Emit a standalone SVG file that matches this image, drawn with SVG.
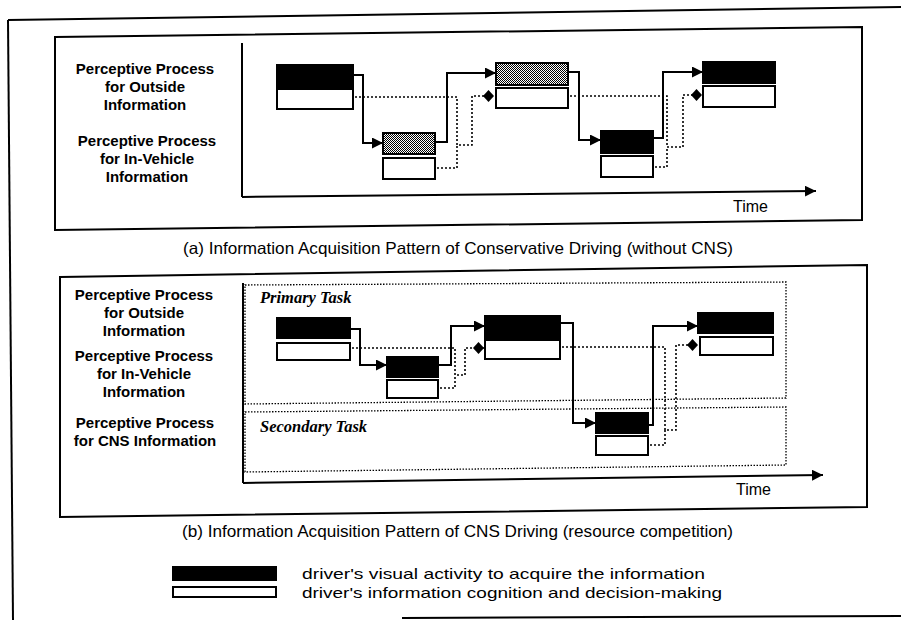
<svg xmlns="http://www.w3.org/2000/svg" width="901" height="620" viewBox="0 0 901 620">
<style>
.frame{fill:none;stroke:#000;stroke-width:2}
.box{fill:none;stroke:#000;stroke-width:1.3;stroke-dasharray:1.5 1.5}
.blk{fill:#000;stroke:#000;stroke-width:2}
.gry{fill:url(#stip);stroke:#000;stroke-width:2}
.wht{fill:#fff;stroke:#000;stroke-width:2}
.sol{fill:none;stroke:#000;stroke-width:2}
.dot{fill:none;stroke:#000;stroke-width:1.6;stroke-dasharray:2 2}
.lbl{font-family:"Liberation Sans",Arial,sans-serif;font-weight:bold;font-size:15px;text-anchor:middle}
.cap{font-family:"Liberation Sans",Arial,sans-serif;font-size:16.5px}
.leg{font-family:"Liberation Sans",Arial,sans-serif;font-size:15px}
.time{font-family:"Liberation Sans",Arial,sans-serif;font-size:16px}
.task{font-family:"Liberation Serif","Times New Roman",serif;font-weight:bold;font-style:italic;font-size:16.5px}
</style>
<defs>
<pattern id="stip" width="2" height="2" patternUnits="userSpaceOnUse"><rect width="2" height="2" fill="#fff"/><rect width="1" height="1" fill="#000"/><rect x="1" y="1" width="1" height="1" fill="#000"/></pattern>
<marker id="arr" markerUnits="userSpaceOnUse" markerWidth="12" markerHeight="12" refX="11" refY="5.5" orient="auto"><path d="M0,0 L11,5.5 L0,11 z" fill="#000"/></marker>
<marker id="dia" markerUnits="userSpaceOnUse" markerWidth="13" markerHeight="13" refX="11" refY="6" orient="auto"><path d="M0,6 L5.5,0 L11,6 L5.5,12 z" fill="#000"/></marker>
</defs>
<rect width="901" height="620" fill="#fff"/>
<g id="outer">
<polyline class="frame" points="8,20 901,7"/>
<polyline class="frame" points="8,20 13,620"/>
<polyline class="frame" points="402,618 901,616"/>
</g>
<g id="panel-a">
<polygon class="frame" points="55,37 862,27 862,220 55,230"/>
<line class="frame" x1="242" y1="43" x2="242" y2="197"/>
<line class="frame" x1="242" y1="197" x2="816" y2="191" marker-end="url(#arr)"/>
<text class="time" x="733" y="212">Time</text>
<text class="lbl" x="145" y="74">Perceptive Process</text>
<text class="lbl" x="145" y="92">for Outside</text>
<text class="lbl" x="145" y="110">Information</text>
<text class="lbl" x="147" y="146">Perceptive Process</text>
<text class="lbl" x="147" y="164">for In-Vehicle</text>
<text class="lbl" x="147" y="182">Information</text>
<text class="cap" x="183" y="254" textLength="550" lengthAdjust="spacingAndGlyphs">(a) Information Acquisition Pattern of Conservative Driving (without CNS)</text>
</g>
<g id="a-node1"><rect class="blk" x="277" y="65" width="76" height="22"/><rect class="wht" x="277" y="89" width="76" height="20"/></g>
<g id="a-node2"><rect class="gry" x="383" y="133" width="52" height="21"/><rect class="wht" x="383" y="158" width="52" height="21"/></g>
<g id="a-node3"><rect class="gry" x="496" y="63" width="72" height="22"/><rect class="wht" x="496" y="88" width="72" height="20"/></g>
<g id="a-node4"><rect class="blk" x="601" y="131" width="52" height="22"/><rect class="wht" x="601" y="156" width="52" height="21"/></g>
<g id="a-node5"><rect class="blk" x="703" y="62" width="72" height="21"/><rect class="wht" x="703" y="86" width="72" height="21"/></g>
<g id="a-connectors">
<path class="sol" d="M353,75 H363 V143 H383" marker-end="url(#arr)"/>
<path class="sol" d="M435,142 H447 V73 H496" marker-end="url(#arr)"/>
<path class="sol" d="M568,72 H579 V140 H601" marker-end="url(#arr)"/>
<path class="sol" d="M653,138 H663 V72 H703" marker-end="url(#arr)"/>
<path class="dot" d="M355,97 H457 V145 H472 V96 H494" marker-end="url(#dia)"/>
<path class="dot" d="M437,168 H457 V145"/>
<path class="dot" d="M570,96 H667 V147 H683 V95 H702" marker-end="url(#dia)"/>
<path class="dot" d="M655,167 H667 V147"/>
</g>
<g id="panel-b">
<polygon class="frame" points="60,277 867,265 867,507 60,517"/>
<polygon class="box" points="245,285 786,282 786,398 245,404"/>
<polygon class="box" points="245,412 786,407 786,465 245,472"/>
<line class="frame" x1="243" y1="283" x2="243" y2="483"/>
<line class="frame" x1="243" y1="483" x2="823" y2="475" marker-end="url(#arr)"/>
<text class="time" x="736" y="495">Time</text>
<text class="task" x="260" y="303">Primary Task</text>
<text class="task" x="260" y="432">Secondary Task</text>
<text class="lbl" x="144" y="300">Perceptive Process</text>
<text class="lbl" x="144" y="318">for Outside</text>
<text class="lbl" x="144" y="336">Information</text>
<text class="lbl" x="144" y="361">Perceptive Process</text>
<text class="lbl" x="144" y="379">for In-Vehicle</text>
<text class="lbl" x="144" y="397">Information</text>
<text class="lbl" x="145" y="428">Perceptive Process</text>
<text class="lbl" x="145" y="446">for CNS Information</text>
<text class="cap" x="182" y="537" textLength="551" lengthAdjust="spacingAndGlyphs">(b) Information Acquisition Pattern of CNS Driving (resource competition)</text>
</g>
<g id="b-node1"><rect class="blk" x="277" y="318" width="73" height="20"/><rect class="wht" x="277" y="343" width="73" height="17"/></g>
<g id="b-node2"><rect class="blk" x="387" y="357" width="51" height="20"/><rect class="wht" x="387" y="380" width="51" height="18"/></g>
<g id="b-node3"><rect class="blk" x="485" y="316" width="75" height="22"/><rect class="wht" x="485" y="340" width="75" height="19"/></g>
<g id="b-node4"><rect class="blk" x="596" y="413" width="52" height="20"/><rect class="wht" x="596" y="436" width="52" height="19"/></g>
<g id="b-node5"><rect class="blk" x="698" y="313" width="75" height="20"/><rect class="wht" x="700" y="337" width="73" height="18"/></g>
<g id="b-connectors">
<path class="sol" d="M350,329 H360 V365 H387" marker-end="url(#arr)"/>
<path class="sol" d="M438,365 H451 V326 H485" marker-end="url(#arr)"/>
<path class="sol" d="M560,323 H573 V423 H596" marker-end="url(#arr)"/>
<path class="sol" d="M648,425 H653 V326 H698" marker-end="url(#arr)"/>
<path class="dot" d="M352,348 H455 V375 H465 V348 H484" marker-end="url(#dia)"/>
<path class="dot" d="M440,388 H455 V375"/>
<path class="dot" d="M562,347 H665 V430 H676 V345 H698" marker-end="url(#dia)"/>
<path class="dot" d="M650,445 H665 V430"/>
</g>
<g id="legend">
<rect class="blk" x="173" y="567" width="103" height="13"/>
<rect class="wht" x="173" y="587" width="103" height="10"/>
<text class="leg" x="302" y="579" textLength="403" lengthAdjust="spacingAndGlyphs">driver's visual activity to acquire the information</text>
<text class="leg" x="302" y="598" textLength="420" lengthAdjust="spacingAndGlyphs">driver's information cognition and decision-making</text>
</g>
</svg>
